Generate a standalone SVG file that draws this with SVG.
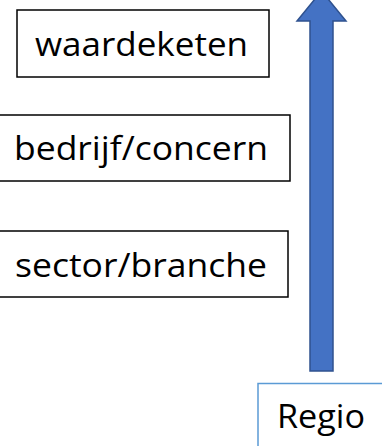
<svg xmlns="http://www.w3.org/2000/svg" width="382" height="446" viewBox="0 0 382 446">
<style>
.box{fill:#fff;stroke:#000;stroke-width:1.5}
.lbl{font-family:"Open Sans","Liberation Sans",sans-serif;font-size:33px;fill:#000}
</style>
<rect width="382" height="446" fill="#fff"/>
<g id="connectors">
<path d="M310,371 L310,21 L297,21 L321.5,-9 L346,21 L333,21 L333,371 Z" fill="#4472C4" stroke="#2F528F" stroke-width="1.5"/>
</g>
<g id="waardeketen">
<rect class="box" x="17" y="10" width="252" height="67"/>
<text class="lbl" x="35" y="56" textLength="213" lengthAdjust="spacingAndGlyphs">waardeketen</text>
</g>
<g id="bedrijf">
<rect class="box" x="-2" y="115" width="292" height="66"/>
<text class="lbl" x="14" y="160" textLength="254" lengthAdjust="spacingAndGlyphs">bedrijf/concern</text>
</g>
<g id="sector">
<rect class="box" x="-2" y="231" width="290" height="66"/>
<text class="lbl" x="15" y="277" textLength="252" lengthAdjust="spacingAndGlyphs">sector/branche</text>
</g>
<g id="regio">
<rect x="258" y="383.5" width="130" height="70" fill="#fff" stroke="#5B9BD5" stroke-width="1.5"/>
<text class="lbl" x="277" y="428" textLength="88" lengthAdjust="spacingAndGlyphs">Regio</text>
</g>
</svg>
